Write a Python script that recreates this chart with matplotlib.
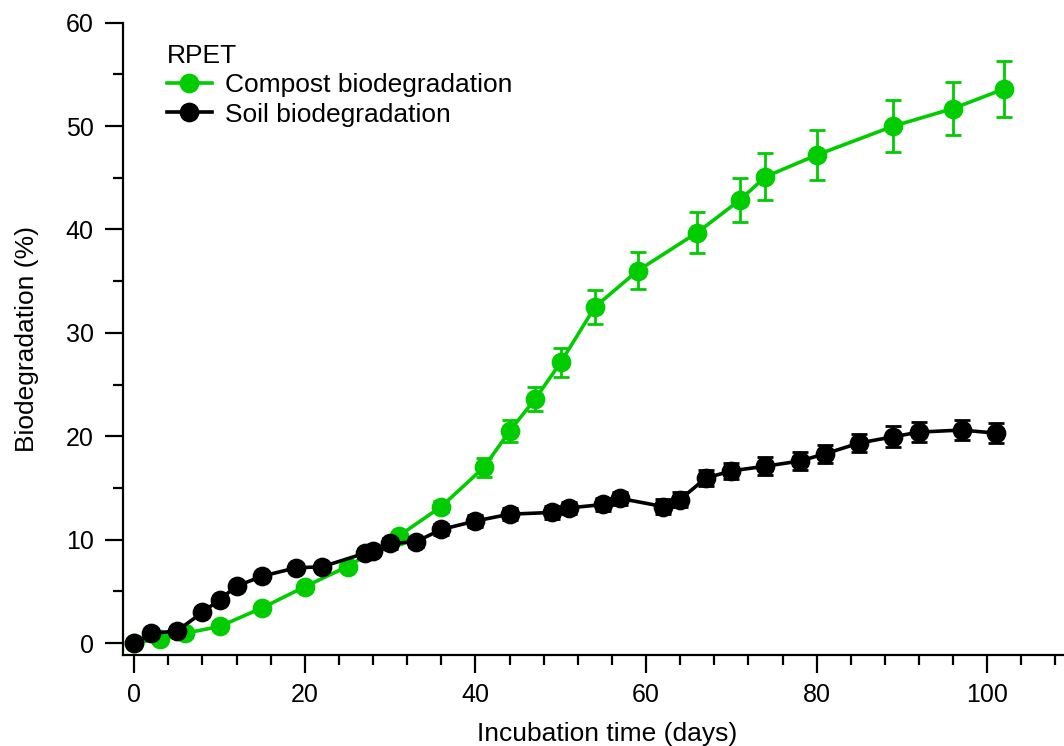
import matplotlib
matplotlib.use("Agg")
from matplotlib import pyplot as plt
from matplotlib.ticker import MultipleLocator
from matplotlib.lines import Line2D

plt.rcParams['font.family'] = ['Liberation Sans', 'DejaVu Sans']

# compost biodegradation
compost_days = [0, 3, 6, 10, 15, 20, 25, 31, 36, 41, 44, 47, 50, 54, 59, 66, 71, 74, 80, 89, 96, 102]
compost_val = [0, 0.4, 0.95, 1.6, 3.4, 5.45, 7.4, 10.35, 13.2, 17.0, 20.5, 23.6, 27.15, 32.5, 36.0, 39.7,
               42.85, 45.1, 47.2, 50.0, 51.7, 53.6]
compost_err = [0, 0, 0, 0, 0, 0, 0, 0.3, 0.5, 0.9, 1.05, 1.2, 1.4, 1.65, 1.8, 2.0,
               2.15, 2.25, 2.4, 2.5, 2.6, 2.7]

# soil biodegradation
soil_days = [0, 2, 5, 8, 10, 12, 15, 19, 22, 27, 28, 30, 33, 36, 40, 44, 49, 51, 55, 57, 62, 64,
             67, 70, 74, 78, 81, 85, 89, 92, 97, 101]
soil_val = [0, 0.93, 1.16, 2.97, 4.2, 5.5, 6.47, 7.28, 7.37, 8.67, 8.92, 9.63, 9.79, 10.98, 11.8,
            12.46, 12.63, 13.07, 13.4, 13.98, 13.2, 13.88, 15.95, 16.65, 17.1, 17.6, 18.3, 19.35,
            19.95, 20.4, 20.6, 20.3]
soil_err = [0, 0, 0, 0, 0, 0, 0, 0, 0, 0.4, 0.4, 0.5, 0.5, 0.5, 0.55, 0.6, 0.6, 0.6, 0.65, 0.65,
            0.7, 0.7, 0.75, 0.8, 0.85, 0.85, 0.9, 0.9, 1.0, 1.0, 1.0, 1.0]

green = '#00cc00'
ms = 13.2
lw = 2.6

fig = plt.figure(figsize=(10.64, 7.46), dpi=100)
ax = fig.add_axes([123/1064, 91/746, 941/1064, 632.3/746])

ax.errorbar(compost_days, compost_val, yerr=compost_err, color=green, marker='o', markersize=ms,
            linewidth=lw, elinewidth=2.0, capsize=5.8, capthick=2.0, label='Compost biodegradation',
            zorder=3)
ax.errorbar(soil_days, soil_val, yerr=soil_err, color='black', marker='o', markersize=ms,
            linewidth=lw, elinewidth=2.0, capsize=5.8, capthick=2.0, label='Soil biodegradation',
            zorder=4)

ax.set_xlim(-1.32, 109)
ax.set_ylim(-1.16, 60)
ax.xaxis.set_major_locator(MultipleLocator(20))
ax.xaxis.set_minor_locator(MultipleLocator(4))
ax.yaxis.set_major_locator(MultipleLocator(10))
ax.yaxis.set_minor_locator(MultipleLocator(5))

for s in ['top', 'right']:
    ax.spines[s].set_visible(False)
for s in ['left', 'bottom']:
    ax.spines[s].set_linewidth(1.6)
ax.tick_params(which='major', length=13, width=1.6, labelsize=18)
ax.tick_params(axis='y', which='major', pad=8)
ax.tick_params(axis='x', which='major', pad=7)
ax.tick_params(which='minor', length=7.5, width=1.6)

ax.set_xlabel('Incubation time (days)', fontsize=19, labelpad=11, x=(607 - 123) / 941)
ax.set_ylabel('Biodegradation (%)', fontsize=19, labelpad=19)

handles = [Line2D([], [], color=green, marker='o', markersize=ms, linewidth=lw),
           Line2D([], [], color='black', marker='o', markersize=ms, linewidth=lw)]
leg = ax.legend(handles, ['Compost biodegradation', 'Soil biodegradation'], title='RPET',
                loc='upper left', bbox_to_anchor=(167/1064, 1 - 44/746), bbox_transform=fig.transFigure,
                frameon=False, fontsize=19, title_fontsize=19, alignment='left',
                handlelength=1.7, handletextpad=0.5, labelspacing=0.2, borderpad=0, borderaxespad=0)

fig.savefig('out.png', dpi=100)
